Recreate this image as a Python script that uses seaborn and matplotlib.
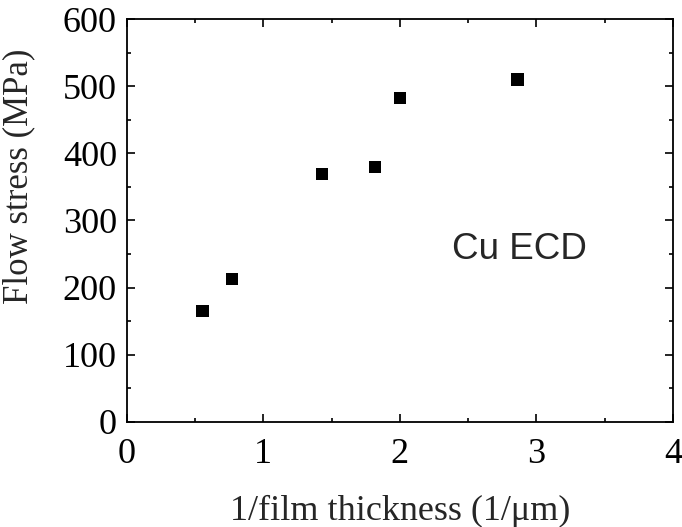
import numpy as np
import matplotlib.pyplot as plt
import seaborn as sns
import pandas as pd
from matplotlib.ticker import MultipleLocator

# data
inv_thickness = [0.555, 0.77, 1.43, 1.82, 2.0, 2.86]
flow_stress = [165, 213, 369, 380, 483, 510]

df = pd.DataFrame({"x": inv_thickness, "y": flow_stress})

sns.set_style("ticks")
plt.rcParams['font.family'] = ['Liberation Serif', 'DejaVu Serif']

fig = plt.figure(figsize=(6.82, 5.27), dpi=100)
ax = fig.add_axes([0.1858, 0.1998, 0.801, 0.7636])

sns.scatterplot(data=df, x="x", y="y", marker="s", color="black",
                s=80, edgecolor="none", ax=ax, legend=False)

ax.set_xlim(0, 4)
ax.set_ylim(0, 600)
ax.xaxis.set_major_locator(MultipleLocator(1))
ax.xaxis.set_minor_locator(MultipleLocator(0.5))
ax.yaxis.set_major_locator(MultipleLocator(100))
ax.yaxis.set_minor_locator(MultipleLocator(50))

for s in ax.spines.values():
    s.set_linewidth(1.3)
    s.set_color("black")

ax.tick_params(which="both", direction="in", top=True, right=True,
               width=1.2, labelsize=26, colors="black")
ax.tick_params(which="major", length=6)
ax.tick_params(which="minor", length=3)
ax.tick_params(axis="x", which="major", pad=12)
ax.tick_params(axis="y", which="major", pad=7)

ax.set_xlabel("1/film thickness (1/μm)", fontsize=26, labelpad=17)
ax.set_ylabel("Flow stress (MPa)", fontsize=25)
ax.yaxis.set_label_coords(-0.168, 0.61)

ax.text(2.874, 257, "Cu ECD", fontsize=26.5, family=["Liberation Sans", "DejaVu Sans"],
        ha="center", va="center")

fig.savefig("out.png", dpi=100)
